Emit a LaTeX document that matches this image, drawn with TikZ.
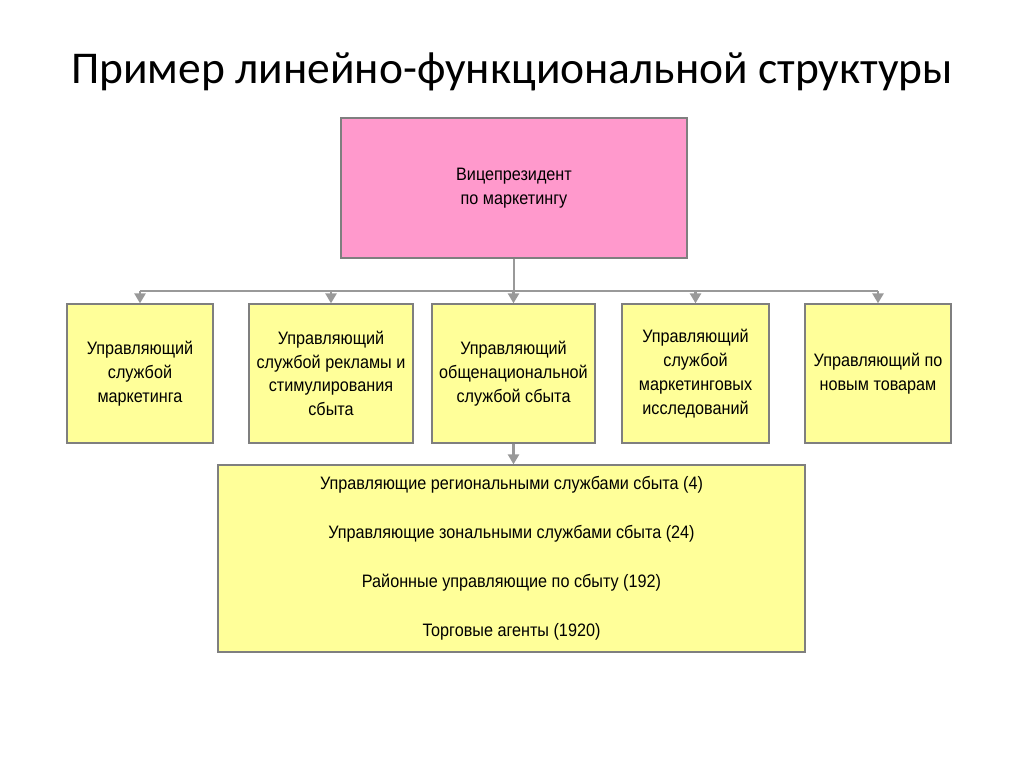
\documentclass[tikz,border=0pt]{standalone}
\usepackage{fontspec}
\setmainfont{Carlito}
\newfontfamily\boxfont[FakeStretch=0.9]{Liberation Sans}
\usetikzlibrary{arrows.meta}
\definecolor{boxyellow}{HTML}{FFFF99}
\definecolor{boxpink}{HTML}{FF99CC}
\definecolor{edgegray}{HTML}{7F7F7F}
\definecolor{linegray}{HTML}{999999}
\tikzset{
  orgbox/.style={draw=edgegray, line width=1.3pt, fill=boxyellow, align=center,
    inner sep=0pt, font=\boxfont\fontsize{18}{23.8}\selectfont, text=black},
  pinkbox/.style={orgbox, fill=boxpink},
  conn/.style={draw=linegray, line width=2.8pt},
  arr/.style={conn, -{Triangle[length=10pt,width=11pt]}},
}
\begin{document}
\begin{tikzpicture}[x=1pt,y=-1pt]
\useasboundingbox (0,0) rectangle (1024,767);
\node[font=\fontsize{45.5}{52}\selectfont] (title) at (512,72) {Пример линейно-функциональной структуры};
\node[pinkbox, minimum width=346pt, minimum height=140pt] (vp) at (514,188)
  {Вицепрезидент\\по маркетингу};
\node[orgbox, minimum width=146pt, minimum height=139pt] (b1) at (140,373.5)
  {Управляющий\\службой\\маркетинга};
\node[orgbox, minimum width=164pt, minimum height=139pt] (b2) at (331,373.5)
  {Управляющий\\службой рекламы и\\стимулирования\\сбыта};
\node[orgbox, minimum width=163pt, minimum height=139pt] (b3) at (513.5,373.5)
  {Управляющий\\общенациональной\\службой сбыта};
\node[orgbox, minimum width=147pt, minimum height=139pt] (b4) at (695.5,373.5)
  {Управляющий\\службой\\маркетинговых\\исследований};
\node[orgbox, minimum width=146pt, minimum height=139pt] (b5) at (878,373.5)
  {Управляющий по\\новым товарам};
\node[orgbox, minimum width=587pt, minimum height=187pt, font=\boxfont\fontsize{18}{49}\selectfont] (big) at (511.5,558.5)
  {Управляющие региональными службами сбыта (4)\\Управляющие зональными службами сбыта (24)\\Районные управляющие по сбыту (192)\\Торговые агенты (1920)};
\coordinate (bus) at (514,291);
\draw[conn] (vp.south) -- (bus);
\draw[conn] (b1.north |- bus) -- (b5.north |- bus);
\foreach \b in {b1,b2,b3,b4,b5}{
  \draw[arr] (\b.north |- bus) -- (\b.north);
}
\draw[arr] (b3.south) -- (big.north -| b3.south);
\end{tikzpicture}
\end{document}
